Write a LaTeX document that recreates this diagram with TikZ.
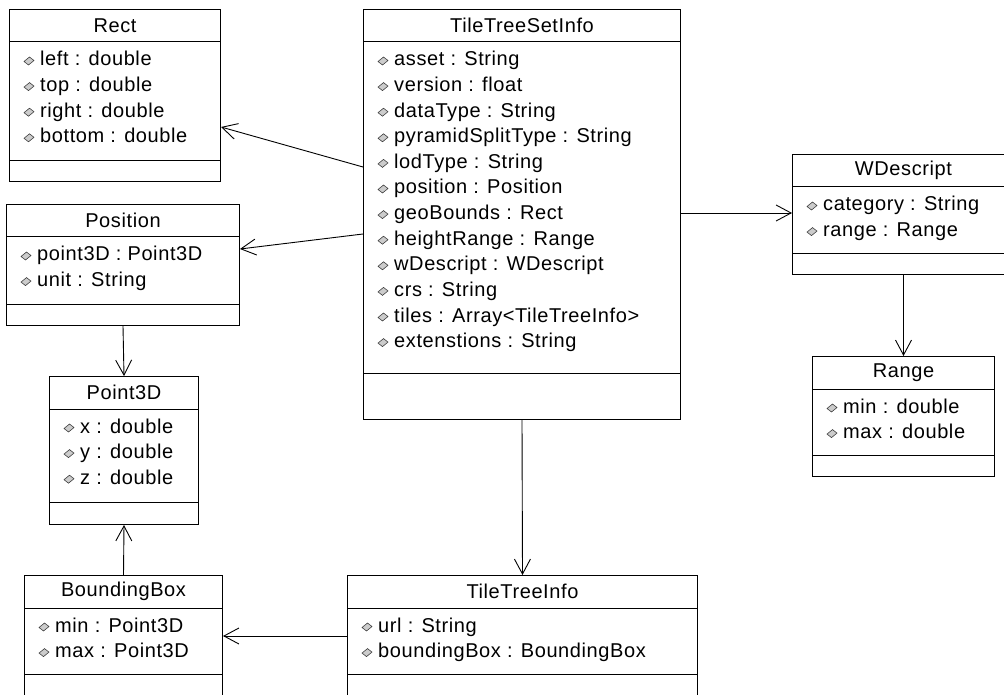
\documentclass[tikz,border=0pt]{standalone}
\usepackage{fontspec}
\setmainfont{Liberation Sans}[LetterSpace=3]
\usetikzlibrary{arrows.meta}

\tikzset{
  classbox/.style={draw, line width=1pt, inner sep=0pt, anchor=north west},
  classname/.style={inner sep=0pt, font=\fontsize{20}{24}\selectfont},
  attr/.style={inner sep=0pt, anchor=west, text height=14pt, text depth=4pt, font=\fontsize{20}{24}\selectfont},
  attricon/.style={fill=gray!40, draw=gray!50!black, line width=0.6pt},
  assoc/.style={-{Straight Barb[length=15pt,width=16pt]}, line width=0.9pt}
}

% #1 name, #2 x, #3 y, #4 width, #5 title, #6 attribute height, #7 operation height, #8 attributes
\newcommand{\umlclass}[8]{%
  \node[classbox, minimum width=#4, minimum height={33+#6+#7}] (#1) at (#2,#3) {};
  \node[classname] (#1-name) at ([yshift=-16.5pt]#1.north) {#5};
  \draw[line width=1pt] ([yshift=-33pt]#1.north west) -- ([yshift=-33pt]#1.north east);
  \draw[line width=1pt] ([yshift=-33pt-#6pt]#1.north west) -- ([yshift=-33pt-#6pt]#1.north east);
  \foreach \a [count=\i from 0] in {#8}{
    \node[attr] (#1-a\i) at ([xshift=31pt,yshift={-(52+25.6*\i)*1pt}]#1.north west) {\a};
    \draw[attricon] ([xshift=-11pt]#1-a\i.west) +(-5,0.5) -- +(0.5,-4) -- +(5,-0.5) -- +(-0.5,4) -- cycle;
  }
}

\begin{document}
\begin{tikzpicture}[x=1pt, y=-1pt]
  \clip (0,0) rectangle (1004,695);

  \umlclass{rect}{9}{9}{211}{Rect}{119}{20}{left : double, top : double, right : double, bottom : double}
  \umlclass{setinfo}{363}{9}{317}{TileTreeSetInfo}{331}{46}{asset : String, version : float, dataType : String, pyramidSplitType : String, lodType : String, position : Position, geoBounds : Rect, heightRange : Range, wDescript : WDescript, crs : String, tiles : Array<TileTreeInfo>, extenstions : String}
  \umlclass{position}{6}{204}{233}{Position}{67}{21}{point3D : Point3D, unit : String}
  \umlclass{point3d}{49}{376}{149}{Point3D}{93}{22}{x : double, y : double, z : double}
  \umlclass{bbox}{24}{575}{198}{BoundingBox}{66}{40}{min : Point3D, max : Point3D}
  \umlclass{treeinfo}{347}{575}{350}{TileTreeInfo}{66}{40}{url : String, boundingBox : BoundingBox}
  \umlclass{wdescript}{792}{154}{222}{WDescript}{66}{21}{category : String, range : Range}
  \umlclass{range}{812}{356}{182}{Range}{66}{21}{min : double, max : double}

  \draw[assoc] ([yshift=-158pt]setinfo.north west) -- ([yshift=-118pt]rect.north east);
  \draw[assoc] ([yshift=-225pt]setinfo.north west) -- ([yshift=-45pt]position.north east);
  \draw[assoc] ([yshift=-204pt]setinfo.north east) -- ([yshift=-59pt]wdescript.north west);
  \draw[assoc] (setinfo.south) -- (treeinfo.north);
  \draw[assoc] ([yshift=-61pt]treeinfo.north west) -- ([yshift=-61pt]bbox.north east);
  \draw[assoc] (bbox.north) -- (point3d.south);
  \draw[assoc] (position.south) -- (point3d.north);
  \draw[assoc] (wdescript.south) -- (range.north);
\end{tikzpicture}
\end{document}
